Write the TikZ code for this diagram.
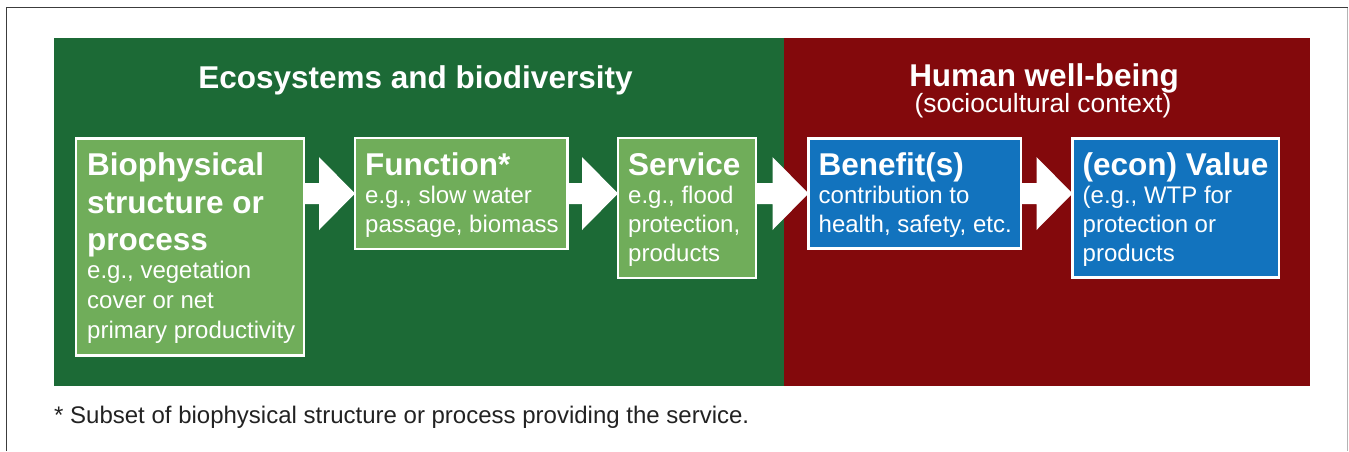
\documentclass[tikz,border=0pt]{standalone}
\usepackage{fontspec}
\setmainfont{Liberation Sans}
\usetikzlibrary{calc}

\definecolor{ecogreen}{HTML}{1C6A36}
\definecolor{hwbred}{HTML}{83090C}
\definecolor{boxgreen}{HTML}{70AD5A}
\definecolor{boxblue}{HTML}{1273BE}
\definecolor{framedark}{HTML}{3C3C3C}
\definecolor{framelight}{HTML}{B4B4B4}
\definecolor{notegray}{HTML}{222222}

\tikzset{
  panel/.style={rectangle, draw=none, inner sep=0pt, outer sep=0pt, anchor=north west},
  stagebox/.style={rectangle, draw=white, line width=2.5pt, inner sep=0pt, outer sep=0pt, anchor=north west},
  paneltitle/.style={text=white, inner sep=0pt, anchor=base, font=\fontsize{31.5}{36}\selectfont\bfseries},
  panelsub/.style={text=white, inner sep=0pt, anchor=base, font=\fontsize{26.4}{30}\selectfont},
  boxhead/.style={text=white, inner sep=0pt, anchor=base west, font=\fontsize{31.5}{36}\selectfont\bfseries},
  boxline/.style={text=white, inner sep=0pt, anchor=base west, font=\fontsize{24}{28}\selectfont},
  blockarrow/.style={to path={
    let \p1=(\tikztostart), \p2=(\tikztotarget) in
    (\x1,\y1+10.5pt) -- (\x2-36pt,\y1+10.5pt) -- (\x2-36pt,\y1+36.5pt) -- (\x2,\y1)
    -- (\x2-36pt,\y1-36.5pt) -- (\x2-36pt,\y1-10.5pt) -- (\x1,\y1-10.5pt) -- cycle}},
}

\begin{document}
\begin{tikzpicture}[x=1pt, y=-1pt]
\useasboundingbox (0,0) rectangle (1349,451);

% outer frame
\draw[framedark, line width=1.5pt] (6.5,451) -- (6.5,7.5) -- (1347.5,7.5);
\draw[framelight, line width=1.5pt] (1347.5,7.5) -- (1347.5,451);

% the two background panels
\node[panel, fill=ecogreen, minimum width=730pt, minimum height=348pt] (eco) at (54,38) {};
\node[panel, fill=hwbred, minimum width=526pt, minimum height=348pt] (hwb) at (784,38) {};

\node[paneltitle] (ecotitle) at (415.5,88) {Ecosystems and biodiversity};
\node[paneltitle] (hwbtitle) at (1044,86) {Human well-being};
\node[panelsub] (hwbsub) at (1043,112) {(sociocultural context)};

% stage boxes
\node[stagebox, fill=boxgreen, minimum width=228pt, minimum height=217pt] (bio) at (76,138.5) {};
\node[stagebox, fill=boxgreen, minimum width=212.5pt, minimum height=111pt] (func) at (355,138) {};
\node[stagebox, fill=boxgreen, minimum width=138pt, minimum height=140pt] (serv) at (618,138) {};
\node[stagebox, fill=boxblue, minimum width=212.5pt, minimum height=110pt] (ben) at (808.5,138.5) {};
\node[stagebox, fill=boxblue, minimum width=206.5pt, minimum height=139pt] (val) at (1072.5,138.5) {};

% box texts
\node[boxhead] (bio1) at (87,175) {Biophysical};
\node[boxhead] (bio2) at (87,213) {structure or};
\node[boxhead] (bio3) at (87,250.5) {process};
\node[boxline] (bio4) at (87,278.5) {e.g., vegetation};
\node[boxline] (bio5) at (87,308.5) {cover or net};
\node[boxline] (bio6) at (87,338.5) {primary productivity};

\node[boxhead] (func1) at (365,175.5) {Function*};
\node[boxline] (func2) at (365,203) {e.g., slow water};
\node[boxline] (func3) at (365,232) {passage, biomass};

\node[boxhead] (serv1) at (628,175.5) {Service};
\node[boxline] (serv2) at (628,203) {e.g., flood};
\node[boxline] (serv3) at (628,232) {protection,};
\node[boxline] (serv4) at (628,261) {products};

\node[boxhead] (ben1) at (818.5,175.5) {Benefit(s)};
\node[boxline] (ben2) at (818.5,203) {contribution to};
\node[boxline] (ben3) at (818.5,232.5) {health, safety, etc.};

\node[boxhead] (val1) at (1082.5,175.5) {(econ) Value};
\node[boxline] (val2) at (1082.5,203) {(e.g., WTP for};
\node[boxline] (val3) at (1082.5,232) {protection or};
\node[boxline] (val4) at (1082.5,261) {products};

% block arrows between the stages
\coordinate (row) at (0,193.5);
\fill[white] (bio.east |- row) to[blockarrow] (func.west |- row);
\fill[white] (func.east |- row) to[blockarrow] (serv.west |- row);
\fill[white] (serv.east |- row) to[blockarrow] (ben.west |- row);
\fill[white] (ben.east |- row) to[blockarrow] (val.west |- row);

% footnote
\node[text=notegray, inner sep=0pt, anchor=base west, font=\fontsize{24}{28}\selectfont] (note) at (54,423.5)
  {* Subset of biophysical structure or process providing the service.};
\end{tikzpicture}
\end{document}
